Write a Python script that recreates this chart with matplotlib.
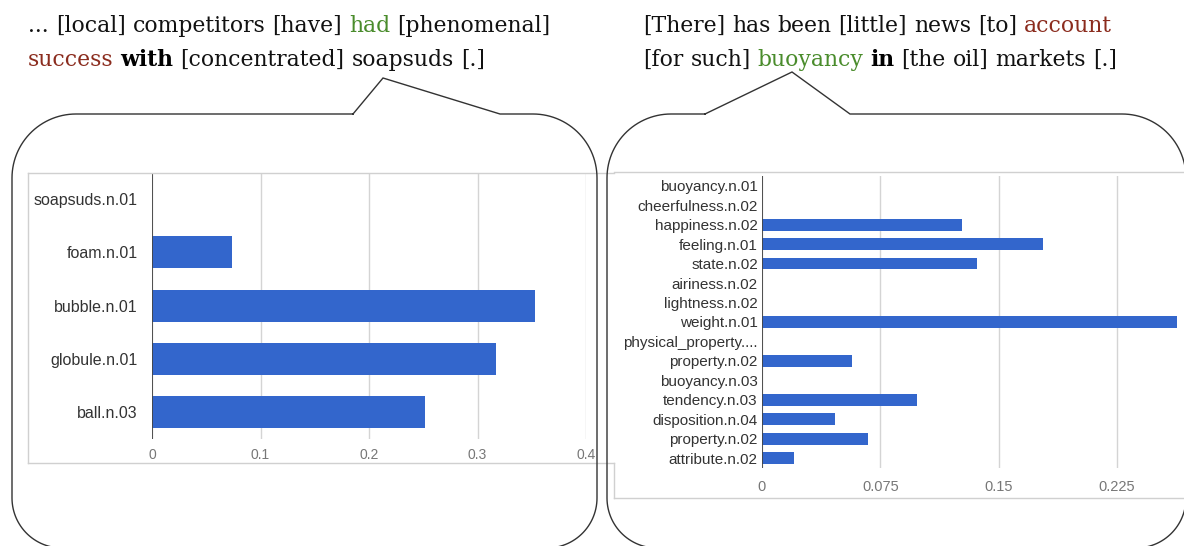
import numpy as np
import matplotlib.pyplot as plt

# data of the two bar charts
left_labels = ['soapsuds.n.01', 'foam.n.01', 'bubble.n.01', 'globule.n.01', 'ball.n.03']
left_values = [0, 0.074, 0.353, 0.317, 0.252]
left_ticks = [0, 0.1, 0.2, 0.3, 0.4]
left_ticklabels = ['0', '0.1', '0.2', '0.3', '0.4']

right_labels = ['buoyancy.n.01', 'cheerfulness.n.02', 'happiness.n.02', 'feeling.n.01',
                'state.n.02', 'airiness.n.02', 'lightness.n.02', 'weight.n.01',
                'physical_property....', 'property.n.02', 'buoyancy.n.03', 'tendency.n.03',
                'disposition.n.04', 'property.n.02', 'attribute.n.02']
right_values = [0, 0, 0.127, 0.178, 0.136, 0, 0, 0.263, 0, 0.057, 0, 0.098, 0.046, 0.067, 0.020]
right_ticks = [0, 0.075, 0.15, 0.225]
right_ticklabels = ['0', '0.075', '0.15', '0.225']

# sentences above the bubbles: (word, style)
left_line1 = [('...', 'n'), ('[local]', 'n'), ('competitors', 'n'), ('[have]', 'n'),
              ('had', 'g'), ('[phenomenal]', 'n')]
left_line2 = [('success', 'r'), ('with', 'b'), ('[concentrated]', 'n'), ('soapsuds', 'n'), ('[.]', 'n')]
right_line1 = [('[There]', 'n'), ('has', 'n'), ('been', 'n'), ('[little]', 'n'), ('news', 'n'),
               ('[to]', 'n'), ('account', 'r')]
right_line2 = [('[for', 'n'), ('such]', 'n'), ('buoyancy', 'g'), ('in', 'b'), ('[the', 'n'),
               ('oil]', 'n'), ('markets', 'n'), ('[.]', 'n')]

W, H = 1184, 546
BLUE = '#3366cc'
SERIF = 'DejaVu Serif'
SANS = 'Liberation Sans'
colors = {'n': '#111111', 'g': '#4a8c2c', 'r': '#8b2c1e', 'b': '#000000'}

fig = plt.figure(figsize=(W / 100, H / 100), dpi=100)


def chart(ax, labels, values, ticks, ticklabels, xmax, lab_size, tick_size, ypad, xpad):
    y = np.arange(len(labels))
    ax.barh(y, values, height=0.6, color=BLUE, zorder=3)
    ax.set_ylim(len(labels) - 0.5, -0.5)
    ax.set_xlim(0, xmax)
    ax.set_yticks(y)
    ax.set_yticklabels(labels, fontsize=lab_size, color='#333333', family=SANS)
    ax.set_xticks(ticks)
    ax.set_xticklabels(ticklabels, fontsize=tick_size, color='#777777', family=SANS)
    ax.tick_params(axis='y', length=0, pad=ypad)
    ax.tick_params(axis='x', length=0, pad=xpad)
    ax.grid(axis='x', color='#d4d4d4', lw=1, zorder=1)
    ax.axvline(0, color='#444444', lw=1.3, zorder=4)
    for s in ax.spines.values():
        s.set_visible(False)
    ax.set_facecolor('none')


ax1 = fig.add_axes([152 / W, 1 - 438.7 / H, (586 - 152) / W, (438.7 - 172.5) / H])
chart(ax1, left_labels, left_values, left_ticks, left_ticklabels, 0.4, 11.5, 10, 10.5, 7)

ax2 = fig.add_axes([762 / W, 1 - 468 / H, (1184 - 762) / W, (468 - 176) / H])
chart(ax2, right_labels, right_values, right_ticks, right_ticklabels, 0.2675, 11, 10.5, 3, 8.5)

# overlay in pixel coordinates for frames, bubbles and sentences
ov = fig.add_axes([0, 0, 1, 1])
ov.set_xlim(0, W)
ov.set_ylim(H, 0)
ov.axis('off')
ov.patch.set_alpha(0)

g = '#d0d0d0'
ov.plot([28, 614], [173, 173], color=g, lw=1)
ov.plot([28, 28], [173, 463], color=g, lw=1)
ov.plot([28, 614], [463, 463], color=g, lw=1)
ov.plot([614, W], [172, 172], color=g, lw=1)
ov.plot([614, 614], [463, 498], color=g, lw=1)
ov.plot([614, W], [498, 498], color=g, lw=1)


def arc(cx, cy, r, a0, a1):
    t = np.radians(np.linspace(a0, a1, 30))
    return list(cx + r * np.cos(t)), list(cy + r * np.sin(t))


def bubble(x0, x1, y0, y1, rt, rb, lx, px, py, rx):
    xs, ys = [lx], [y0]
    for cx, cy, r, a0, a1 in [(x0 + rt, y0 + rt, rt, -90, -180),
                              (x0 + rb, y1 - rb, rb, 180, 90),
                              (x1 - rb, y1 - rb, rb, 90, 0),
                              (x1 - rt, y0 + rt, rt, 0, -90)]:
        ax_, ay_ = arc(cx, cy, r, a0, a1)
        xs += ax_
        ys += ay_
    xs += [rx, px, lx]
    ys += [y0, py, y0]
    ov.plot(xs, ys, color='#333333', lw=1.0, clip_on=False, solid_joinstyle='miter')


bubble(12, 597, 114, 548, 64, 50, 353, 383, 78, 500)
bubble(607, 1186, 114, 548, 64, 50, 705, 792, 72, 850)

renderer = fig.canvas.get_renderer()


def width(s, size, weight='normal'):
    t = ov.text(0, 0, s, fontsize=size, family=SERIF, fontweight=weight)
    w = t.get_window_extent(renderer).width
    t.remove()
    return w


def line_width(words, size):
    sp = width('a a', size) - width('aa', size)
    return sum(width(w, size, 'bold' if s == 'b' else 'normal') for w, s in words) + sp * (len(words) - 1)


def draw_line(x, y, words, size):
    sp = width('a a', size) - width('aa', size)
    for w, s in words:
        wt = 'bold' if s == 'b' else 'normal'
        ov.text(x, y, w, fontsize=size, family=SERIF, fontweight=wt, color=colors[s],
                va='baseline', ha='left')
        x += width(w, size, wt) + sp


size = 16 * 524 / line_width(left_line1, 16)
draw_line(28, 32, left_line1, size)
draw_line(28, 66, left_line2, size)
draw_line(643, 32, right_line1, size)
draw_line(643, 66, right_line2, size)

plt.savefig('out.png', dpi=100)
